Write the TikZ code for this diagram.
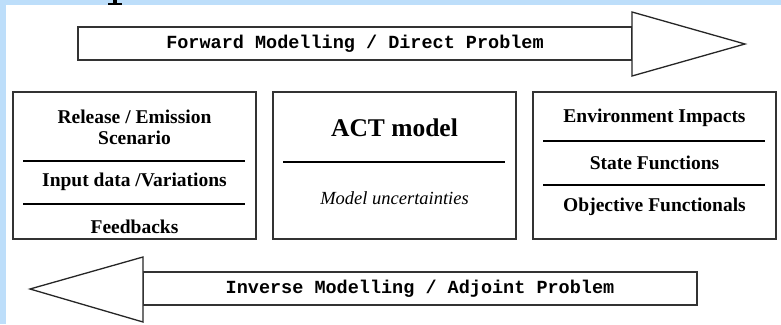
\documentclass[tikz,border=0pt]{standalone}
\usepackage{fontspec}
\setmainfont{Liberation Serif}
\newfontfamily\monofont{Liberation Mono}
\definecolor{bgblue}{HTML}{BDDEFA}
\definecolor{edge}{HTML}{333333}
\begin{document}
\begin{tikzpicture}[x=1pt,y=-1pt,
  panel/.style={draw=edge, line width=1.6pt, fill=white, inner sep=0pt, outer sep=0pt,
                minimum width=243pt, minimum height=147pt},
  body/.style={draw=edge, line width=1.6pt, fill=white, inner sep=0pt, outer sep=0pt,
               minimum width=554pt, minimum height=33pt,
               font=\monofont\bfseries\fontsize{18.5}{20}\selectfont},
  headtri/.style={draw=black!85, line width=1.3pt, fill=white, line join=miter},
  divider/.style={draw=black, line width=2.3pt},
  lbl/.style={inner sep=0pt, align=center, font=\bfseries\fontsize{19.5}{21}\selectfont},
]
% background
\useasboundingbox (0,0) rectangle (781,324);
\fill[bgblue] (0,0) rectangle (781,324);
\fill[white] (6,5) rectangle (781,324);
% fragment of title glyph at top
\fill[black] (113,0) rectangle (117,3.5);
\fill[black] (108,3) rectangle (122,5);

% forward arrow
\node[body] (fwd) at (355,43.5) {Forward Modelling / Direct Problem};
\coordinate (ftip) at (745,44);
\draw[headtri] (fwd.east |- 0,12) -- (ftip) -- (fwd.east |- 0,76) -- cycle;

% inverse arrow
\node[body] (inv) at (420,288.5) {Inverse Modelling / Adjoint Problem};
\coordinate (itip) at (30,289);
\draw[headtri] (inv.west |- 0,257) -- (itip) -- (inv.west |- 0,322) -- cycle;

% left box
\node[panel] (lbox) at (134.5,165.5) {};
\node[lbl] (l1) at (134.5,127.5) {Release / Emission\\Scenario};
\node[lbl] (l2) at (134.5,182) {Input data /Variations};
\node[lbl] (l3) at (134.5,226.5) {Feedbacks};
\draw[divider] (23,161) -- (245,161);
\draw[divider] (23,204) -- (245,204);

% middle box
\node[panel] (mbox) at (394.5,165.5) {};
\node[lbl, font=\bfseries\fontsize{25.5}{28}\selectfont] (m1) at (394.5,128) {ACT model};
\node[lbl, font=\itshape\fontsize{18.5}{21}\selectfont] (m2) at (394.5,198) {Model uncertainties};
\draw[divider] (283,162) -- (505,162);

% right box
\node[panel] (rbox) at (654.5,165.5) {};
\node[lbl] (r1) at (654.5,118) {Environment Impacts};
\node[lbl] (r2) at (654.5,163) {State Functions};
\node[lbl] (r3) at (654.5,207) {Objective Functionals};
\draw[divider] (543,141) -- (765,141);
\draw[divider] (543,185) -- (765,185);
\end{tikzpicture}
\end{document}
